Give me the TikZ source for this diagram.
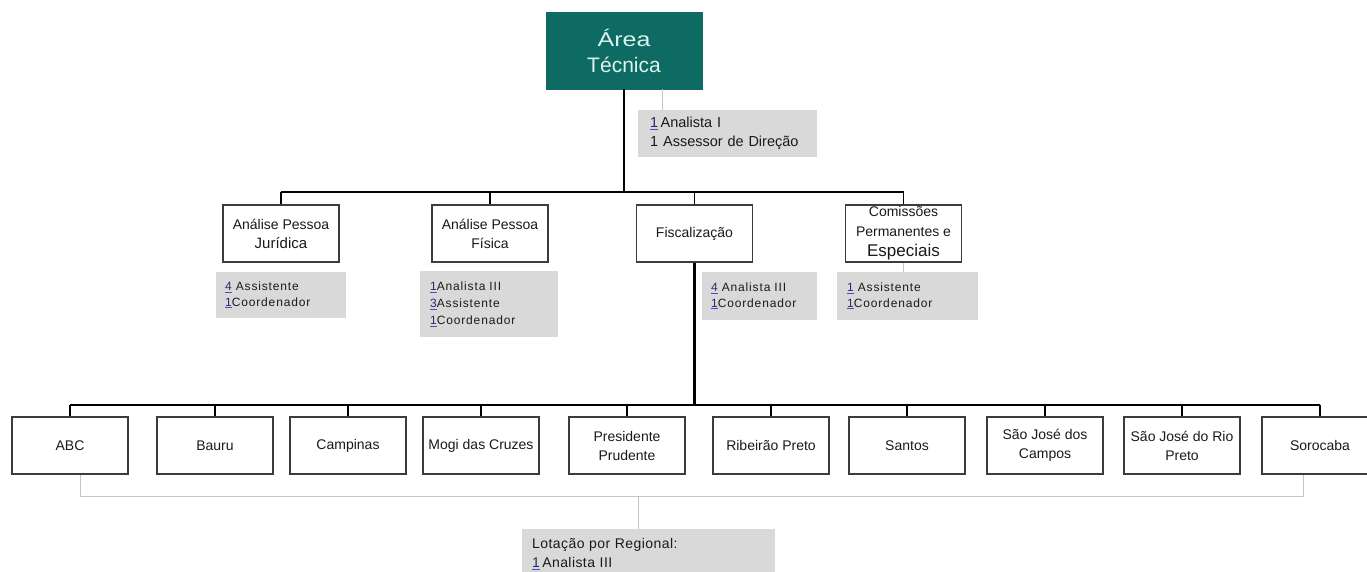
\documentclass[tikz,border=0pt]{standalone}
\usepackage{fontspec}
\setmainfont{Liberation Sans}
\usepackage{graphicx}
\definecolor{teal}{HTML}{0D6B64}
\definecolor{tealtext}{HTML}{DDF3EE}
\definecolor{notegray}{HTML}{D9D9D9}
\definecolor{boxline}{HTML}{3C3C3C}
\definecolor{txt}{HTML}{1A1A1A}
\definecolor{numnavy}{HTML}{2A2A66}
\definecolor{numblue}{HTML}{3B4FD0}
\definecolor{thinline}{HTML}{C4C4C4}
% staff count with its field underline
\newcommand\cnt[1]{{\color{numblue}\underline{\textcolor{numnavy}{#1}}}}
\begin{document}
\begin{tikzpicture}[x=1pt,y=-1pt,
  unitbox/.style={draw=boxline, line width=1.1pt, fill=white, minimum width=116pt,
    minimum height=57pt, inner sep=1pt, align=center, text=txt,
    font=\fontsize{14}{19}\selectfont},
  staffnote/.style={fill=notegray, anchor=north west, align=left, inner ysep=0pt,
    text=txt, font=\fontsize{12}{15.5}\selectfont\addfontfeature{LetterSpace=7}},
  trunk/.style={line width=2.4pt, black},
  bus/.style={line width=1.5pt, black},
  drop/.style={line width=1.1pt, black},
  grayline/.style={line width=1pt, thinline}]
\useasboundingbox (0,0) rectangle (1367,572);

% head of the department
\node[fill=teal, draw=teal, minimum width=156pt, minimum height=77pt, inner sep=0pt,
  align=center, text=tealtext, font=\fontsize{21}{26}\selectfont] (tec) at (624,50.5)
  {\scalebox{1.25}[1]{\fontsize{20}{26}\selectfont Área}\\Técnica};

\node[staffnote, text width=155pt, inner xsep=12pt, minimum height=47pt,
  font=\fontsize{14.5}{19}\selectfont] (tnote) at (638,110)
  {\cnt{1}\,Analista I\\1 Assessor de Direção};

% second level
\node[unitbox] (jur) at (281,233.5) {Análise Pessoa\\{\fontsize{15}{19}\selectfont Jurídica}};
\node[unitbox] (fis) at (490,233.5) {Análise Pessoa\\Física};
\node[unitbox] (fisc) at (694.5,233.5) {Fiscalização};
\node[unitbox, font=\fontsize{14}{20}\selectfont] (com) at (903.5,233.5)
  {Comissões\\Permanentes e\\{\fontsize{17}{20}\selectfont Especiais}};

\node[staffnote, text width=112pt, inner xsep=9pt, minimum height=46pt] (jnote) at (216,272)
  {\cnt{4} Assistente\\\cnt{1}Coordenador};
\node[staffnote, text width=118pt, inner xsep=10pt, minimum height=66pt,
  font=\fontsize{12}{17}\selectfont\addfontfeature{LetterSpace=7}] (fnote) at (420,271)
  {\cnt{1}Analista III\\\cnt{3}Assistente\\\cnt{1}Coordenador};
\node[staffnote, text width=97pt, inner xsep=9pt, minimum height=48pt] (znote) at (702,272)
  {\cnt{4} Analista III\\\cnt{1}Coordenador};
\node[staffnote, text width=121pt, inner xsep=10pt, minimum height=48pt] (cnote) at (837,272)
  {\cnt{1} Assistente\\\cnt{1}Coordenador};

% regional offices
\foreach \nm/\cx/\lbl in {abc/70/ABC, bau/215/Bauru, cam/348/Campinas,
    mog/481/Mogi das Cruzes, pru/627/Presidente\\Prudente, rib/771/Ribeirão Preto,
    san/907/Santos, sjc/1045/São José dos\\Campos, sjr/1182/São José do Rio\\Preto,
    sor/1320/Sorocaba}
  \node[unitbox] (\nm) at (\cx,445.5) {\lbl};

\node[staffnote, text width=233pt, inner xsep=10pt, minimum height=50pt,
  font=\fontsize{14}{19}\selectfont\addfontfeature{LetterSpace=3}] (lnote) at (522,529)
  {Lotação por Regional:\\\cnt{1}\,Analista III};

% connectors
\coordinate (busT) at (625,192);
\coordinate (busB) at (696,405);
\coordinate (tnx) at (662,100);
\coordinate (gl) at (80,496);
\coordinate (gr) at (1303,496);
\coordinate (gm) at (638,496);

\draw[grayline] (tec.south -| tnx) -- (tnote.north -| tnx);
\draw[grayline] (com.south) -- (cnote.north -| com.south);

\draw[bus] (jur.north |- busT) -- (com.north |- busT);
\foreach \nm in {jur,fis,fisc,com}
  \draw[drop] (\nm.north) -- (\nm.north |- busT);
\draw[trunk] (tec.south) -- (tec.south |- busT);

\draw[trunk] (fisc.south) -- (fisc.south |- busB);
\draw[bus] (abc.north |- busB) -- (sor.north |- busB);
\foreach \nm in {abc,bau,cam,mog,pru,rib,san,sjc,sjr,sor}
  \draw[drop] (\nm.north) -- (\nm.north |- busB);

\draw[grayline] (abc.south -| gl) -- (gl) -- (gr) -- (sor.south -| gr);
\draw[grayline] (gm) -- (lnote.north -| gm);
\end{tikzpicture}
\end{document}
